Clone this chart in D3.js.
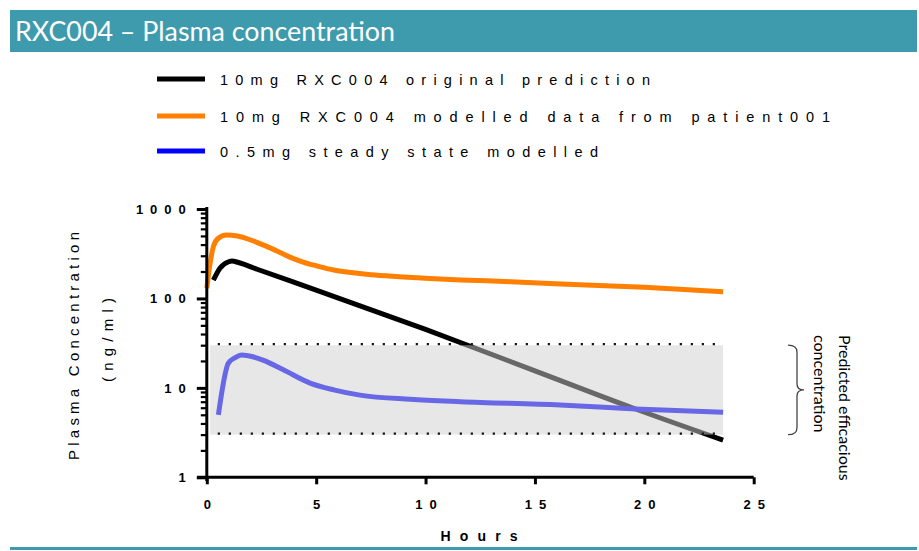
<!DOCTYPE html>
<html>
<head>
<meta charset="utf-8">
<script src="https://cdnjs.cloudflare.com/ajax/libs/d3/7.8.5/d3.min.js"></script>
<style>
  body { margin: 0; background: #fff; }
  svg { display: block; }
</style>
</head>
<body>
<div id="chart"></div>
<script>
// values (hours, ng/ml)
var blackHours = [0.3, 0.6, 1.0, 1.15, 1.45, 2.3, 5, 10, 15, 19.6, 23.6]
var blackConc = [160, 218, 257, 262, 252, 212, 124, 45, 15.5, 5.8, 2.6]

var orangeHours = [0, 0.15, 0.3, 0.5, 0.9, 1.4, 2.0, 2.6, 3.2, 3.8, 4.4, 5.0, 5.8, 6.5, 7.5, 8.8, 11.6, 13.9, 16.2, 20, 23.6]
var orangeConc = [130, 247, 380, 465, 512, 500, 450, 395, 340, 290, 255, 232, 208, 196, 184, 175, 161, 154, 145, 133, 119]

var blueHours = [0.53, 0.98, 1.3, 1.6, 2.1, 2.6, 3.5, 4.72, 5.8, 7.0, 9.3, 11.6, 16.15, 19.6, 23.6]
var blueConc = [5.0, 18.8, 21.8, 23.3, 22.3, 20.3, 15.9, 11.3, 9.5, 8.3, 7.45, 7.0, 6.44, 5.8, 5.33]

var seriesNames = ["10mg RXC004 original prediction", "10mg RXC004 modelled data from patient001", "0.5mg steady state modelled"]
var seriesColors = ["#000000", "#ff8000", "#0000ff"]

var efficaciousRange = [3, 30]      // ng/ml
var bandHours = [0.15, 23.6]
var xTicks = [0, 5, 10, 15, 20, 25]
var yTicks = [1, 10, 100, 1000]

var W = 919, H = 551
var teal = "#3e9bad"

var svg = d3.select("#chart").append("svg")
    .attr("width", W)
    .attr("height", H)

// title bar
svg.append("rect")
    .attr("x", 10).attr("y", 10)
    .attr("width", 907).attr("height", 42)
    .attr("fill", teal)
svg.append("text")
    .attr("x", 15).attr("y", 41)
    .attr("fill", "#fff")
    .attr("textLength", 380)
    .attr("lengthAdjust", "spacingAndGlyphs")
    .style("font-family", "Lato, 'Open Sans', sans-serif")
    .style("font-size", "27px")
    .text("RXC004 \u2013 Plasma concentration")

// bottom rule
svg.append("rect")
    .attr("x", 10).attr("y", 547)
    .attr("width", 907).attr("height", 3)
    .attr("fill", teal)

// scales
var x = d3.scaleLinear().domain([0, 25]).range([206.8, 753.7])
var y = d3.scaleLog().domain([1, 1000]).range([477.3, 209])

var line = d3.line()
    .x(function(d) { return x(d[0]) })
    .y(function(d) { return y(d[1]) })
    .curve(d3.curveMonotoneX)

var series = [
    d3.zip(blackHours, blackConc),
    d3.zip(orangeHours, orangeConc),
    d3.zip(blueHours, blueConc)
]

// lines
svg.selectAll("path.series")
    .data(series)
    .enter()
    .append("path")
    .attr("class", "series")
    .attr("d", line)
    .attr("fill", "none")
    .attr("stroke", function(d, i) { return seriesColors[i] })
    .attr("stroke-width", 5)
    .attr("stroke-linejoin", "round")

// predicted efficacious band, drawn over the lines
svg.append("rect")
    .attr("x", x(bandHours[0]))
    .attr("y", y(efficaciousRange[1]))
    .attr("width", x(bandHours[1]) - x(bandHours[0]))
    .attr("height", y(efficaciousRange[0]) - y(efficaciousRange[1]))
    .attr("fill", "#cfcfcf")
    .attr("opacity", 0.5)

svg.selectAll("line.limit")
    .data(efficaciousRange)
    .enter()
    .append("line")
    .attr("class", "limit")
    .attr("x1", x(0.5))
    .attr("x2", x(bandHours[1]))
    .attr("y1", function(d) { return y(d) - 1 })
    .attr("y2", function(d) { return y(d) - 1 })
    .attr("stroke", "#111")
    .attr("stroke-width", 2.2)
    .attr("stroke-dasharray", "2.2,8.8")

// axes
var tickFont = "'Liberation Sans', Arial, sans-serif"

var yMinor = []
for (var p = 0; p < 3; p++) {
    for (var k = 2; k < 10; k++) yMinor.push(k * Math.pow(10, p))
}

svg.append("g")
    .attr("transform", "translate(" + x(0) + ",0)")
    .call(d3.axisLeft(y).tickValues(yMinor).tickSize(6).tickFormat(""))
    .call(function(g) { g.select(".domain").remove() })
    .selectAll("line").attr("stroke-width", 2.2)

var yAxis = svg.append("g")
    .attr("transform", "translate(" + x(0) + ",0)")
    .call(d3.axisLeft(y).tickValues(yTicks).tickSize(10).tickSizeOuter(0).tickPadding(4)
        .tickFormat(d3.format("d")))
yAxis.select(".domain").attr("stroke-width", 3).attr("d", "M0,481V207")
yAxis.selectAll("line").attr("stroke-width", 3)
yAxis.selectAll("text")
    .style("font-family", tickFont)
    .style("font-size", "13px")
    .style("font-weight", "bold")
    .style("letter-spacing", "7px")
    .attr("fill", "#000")

var xAxis = svg.append("g")
    .attr("transform", "translate(0," + y(1) + ")")
    .call(d3.axisBottom(x).tickValues(xTicks).tickSize(7).tickSizeOuter(0).tickPadding(15))
xAxis.select(".domain").attr("stroke-width", 3).attr("d", "M197,0H" + x(25))
xAxis.selectAll("line").attr("stroke-width", 3)
xAxis.selectAll("text")
    .style("font-family", tickFont)
    .style("font-size", "13px")
    .style("font-weight", "bold")
    .style("letter-spacing", "7px")
    .attr("dx", "3.5px")
    .attr("fill", "#000")

// axis titles
svg.append("text")
    .attr("transform", "translate(79,346) rotate(-90)")
    .attr("text-anchor", "middle")
    .attr("textLength", 228)
    .attr("lengthAdjust", "spacing")
    .style("font-family", tickFont)
    .style("font-size", "15px")
    .attr("fill", "#000")
    .text("Plasma Concentration")

svg.append("text")
    .attr("transform", "translate(113,340) rotate(-90)")
    .attr("text-anchor", "middle")
    .attr("textLength", 84)
    .attr("lengthAdjust", "spacing")
    .style("font-family", tickFont)
    .style("font-size", "15px")
    .attr("fill", "#000")
    .text("(ng/ml)")

svg.append("text")
    .attr("x", 479).attr("y", 541)
    .attr("text-anchor", "middle")
    .attr("textLength", 77)
    .attr("lengthAdjust", "spacing")
    .style("font-family", tickFont)
    .style("font-size", "14px")
    .style("font-weight", "bold")
    .text("Hours")

// legend
var legendY = [79, 116, 151]
var legendLen = [430, 610, 378]
var legend = svg.selectAll("g.legend")
    .data(seriesNames)
    .enter()
    .append("g")
    .attr("class", "legend")
    .attr("transform", function(d, i) { return "translate(0," + legendY[i] + ")" })
legend.append("line")
    .attr("x1", 157).attr("x2", 205)
    .attr("stroke", function(d, i) { return seriesColors[i] })
    .attr("stroke-width", 5)
legend.append("text")
    .attr("x", 220).attr("y", 5.5)
    .attr("textLength", function(d, i) { return legendLen[i] })
    .attr("lengthAdjust", "spacing")
    .style("font-family", tickFont)
    .style("font-size", "14.5px")
    .attr("fill", "#000")
    .text(function(d) { return d })

// brace + label for efficacious range
var bTop = y(efficaciousRange[1]), bBot = y(efficaciousRange[0]), bMid = (bTop + bBot) / 2
svg.append("path")
    .attr("d", "M788," + bTop + " Q797," + bTop + " 797," + (bTop + 7) +
        " L797," + (bMid - 6) + " Q797," + bMid + " 804," + bMid +
        " Q797," + bMid + " 797," + (bMid + 6) +
        " L797," + (bBot - 7) + " Q797," + bBot + " 788," + bBot)
    .attr("fill", "none")
    .attr("stroke", "#444")
    .attr("stroke-width", 1.3)

svg.selectAll("text.brace")
    .data(["Predicted efficacious", "concentration"])
    .enter()
    .append("text")
    .attr("class", "brace")
    .attr("transform", function(d, i) { return "translate(" + (i == 0 ? 839 : 814) + ",335) rotate(90)" })
    .style("font-family", "Lato, 'Open Sans', sans-serif")
    .style("font-size", "16px")
    .attr("fill", "#000")
    .text(function(d) { return d })
</script>
</body>
</html>
